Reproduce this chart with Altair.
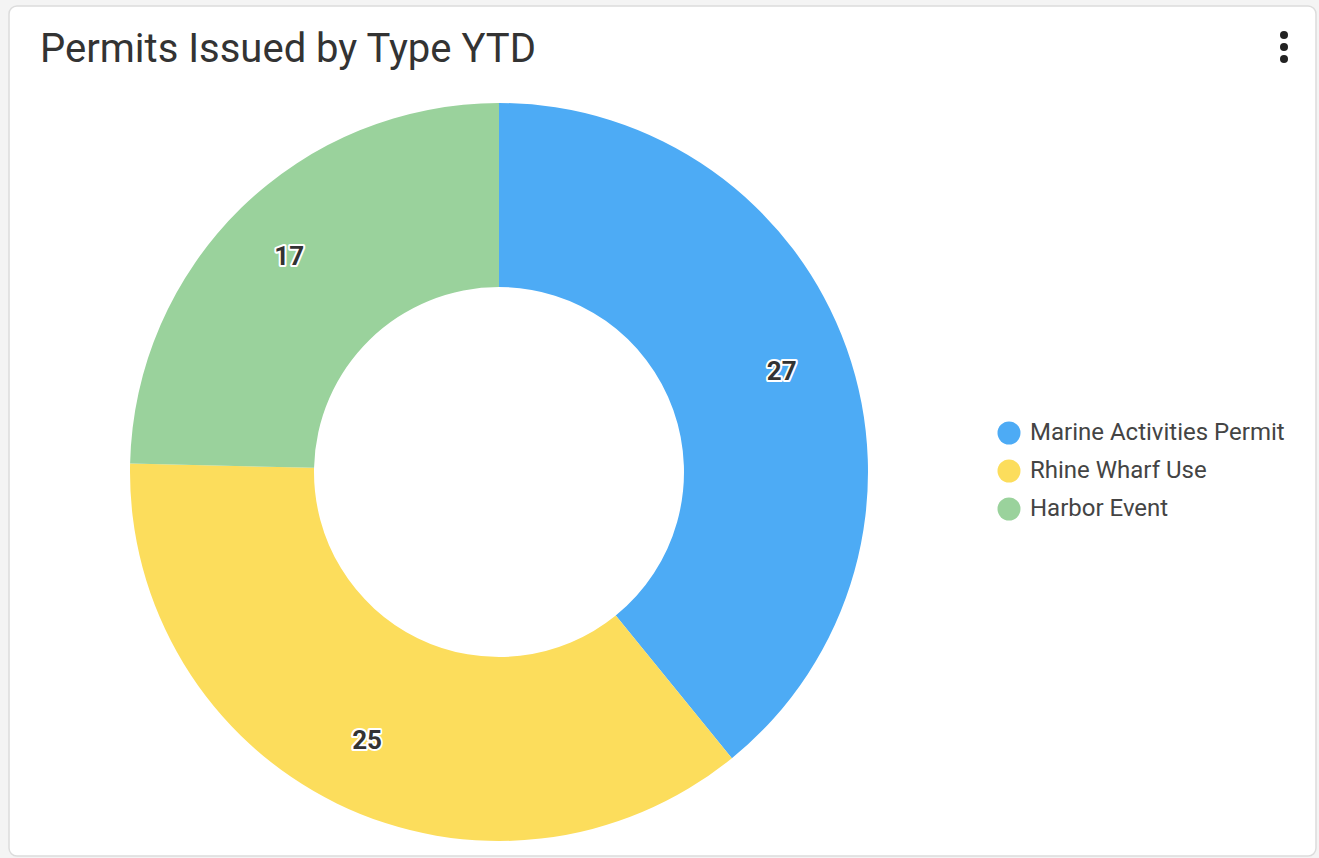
import altair as alt
import pandas as pd

# ---- data ----
types = ["Marine Activities Permit", "Rhine Wharf Use", "Harbor Event"]
counts = [27, 25, 17]
colors = ["#4dabf5", "#fcdd5c", "#9ad29c"]
title_text = "Permits Issued by Type YTD"

df = pd.DataFrame({"type": types, "value": counts, "idx": list(range(len(types)))})
one = pd.DataFrame({"a": [0]})

W, H = 1319, 858
CX, CY = 499, 472
R_OUT, R_IN = 369, 185
FONT = "Roboto"

card = alt.Chart(one).mark_rect(
    fill="white", stroke="#dcdcdc", strokeWidth=1.5, cornerRadius=8
).encode(
    x=alt.value(9), x2=alt.value(1316), y=alt.value(6), y2=alt.value(856)
)

title = alt.Chart(one).mark_text(
    text=title_text, font=FONT, fontSize=40, color="#333333",
    align="left", baseline="alphabetic"
).encode(x=alt.value(40), y=alt.value(62))

dots = [
    alt.Chart(one).mark_circle(size=64, color="#222222", opacity=1).encode(
        x=alt.value(1284), y=alt.value(yy)
    )
    for yy in (35, 47, 59)
]

base = alt.Chart(df).encode(
    theta=alt.Theta("value:Q", stack=True),
    order=alt.Order("idx:Q"),
)

arcs = base.mark_arc(
    radius=R_OUT, radius2=R_IN, stroke=None, strokeWidth=0
).encode(
    x=alt.value(CX), y=alt.value(CY),
    color=alt.Color(
        "type:N",
        scale=alt.Scale(domain=types, range=colors),
        legend=alt.Legend(
            title=None, orient="none", legendX=997, legendY=421,
            symbolType="circle", symbolSize=529, symbolStrokeWidth=0,
            labelFont=FONT, labelFontSize=24, labelColor="#444444",
            labelOffset=9, rowPadding=14, labelLimit=400,
        ),
    ),
)

halo = base.mark_text(
    radius=300, font=FONT, fontSize=26, fontWeight="bold",
    fill="white", stroke="white", strokeWidth=4, strokeJoin="round"
).encode(
    x=alt.value(CX), y=alt.value(CY), detail="type:N", text="value:Q"
)

labels = base.mark_text(
    radius=300, font=FONT, fontSize=26, fontWeight="bold", fill="#333333"
).encode(
    x=alt.value(CX), y=alt.value(CY), detail="type:N", text="value:Q"
)

chart = alt.layer(card, title, *dots, arcs, halo, labels).properties(
    width=W, height=H, padding=0, autosize=alt.AutoSizeParams(type="none"),
    background="#f4f4f4",
).configure_view(stroke=None)

chart.save("out.html", embed_options={"renderer": "svg", "actions": False})
